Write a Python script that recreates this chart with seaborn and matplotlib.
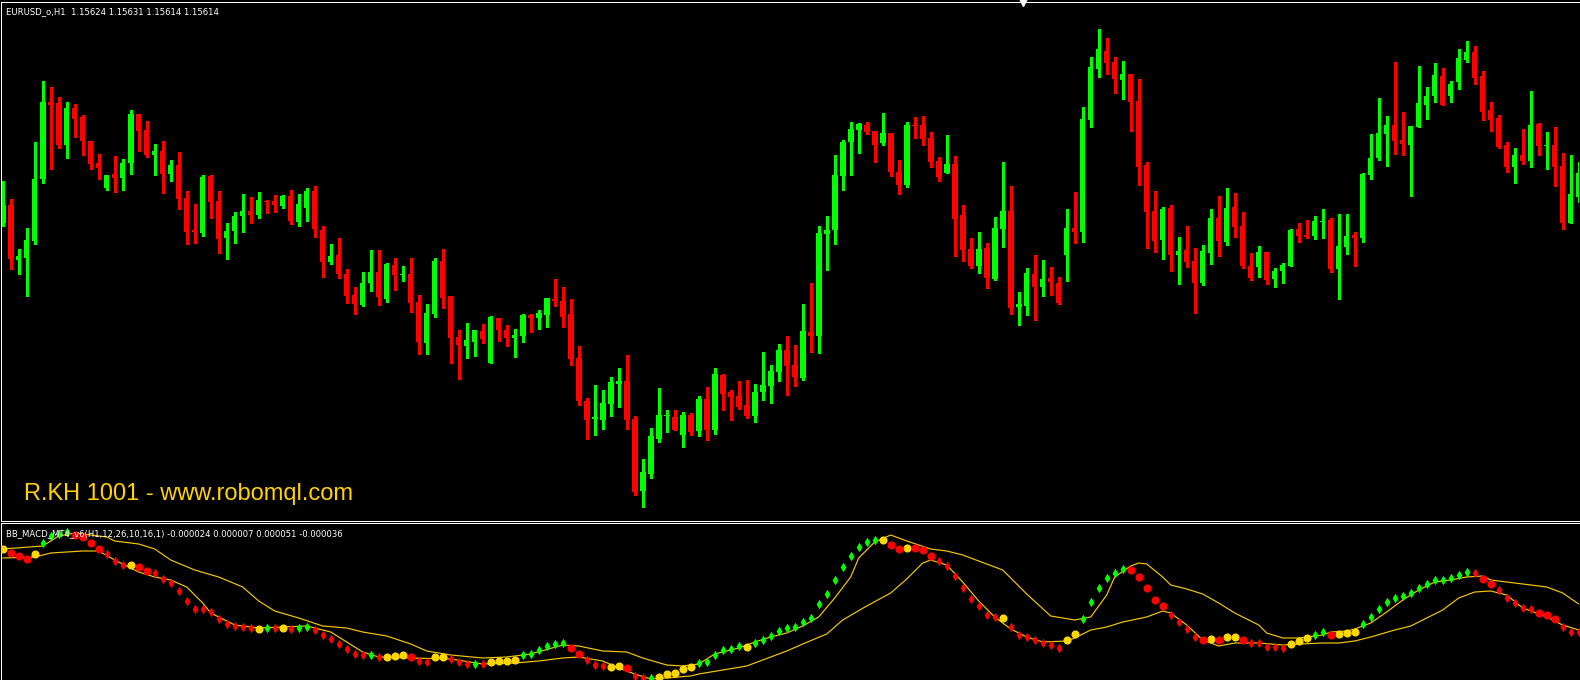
import numpy as np
import pandas as pd
import seaborn as sns
import matplotlib
matplotlib.use("Agg")
import matplotlib.pyplot as plt

# EURUSD H1 candles, prices stored as points above 1.15300
BASE = 1.15300
POINT = 0.00001

open_pts = [297, 315, 260, 262, 279, 341, 418, 417, 375, 412, 403, 379, 357, 332, 346, 342, 357, 406, 390, 365,
            369, 346, 355, 322, 290, 287, 344, 319, 282, 289, 304, 309, 305, 319, 319, 314, 324, 298, 312, 329,
            290, 258, 265, 246, 225, 215, 237, 248, 221, 255, 245, 246, 218, 177, 206, 259, 224, 183, 174, 178,
            189, 157, 202, 190, 182, 184, 205, 202, 205, 221, 219, 206, 162, 119, 101, 100, 116, 136, 139, 101,
            29, 46, 81, 104, 103, 85, 105, 89, 121, 90, 145, 128, 124, 115, 104, 128, 134, 148, 170, 155,
            142, 188, 184, 286, 290, 344, 378, 390, 395, 389, 377, 387, 348, 335, 395, 395, 382, 359, 347, 356,
            305, 271, 254, 272, 241, 291, 309, 213, 214, 246, 233, 242, 237, 265, 292, 288, 400, 451, 469, 458,
            440, 446, 419, 355, 309, 280, 312, 265, 270, 259, 237, 267, 302, 278, 313, 294, 254, 253, 268, 241,
            249, 254, 291, 285, 284, 298, 300, 251, 273, 285, 282, 345, 362, 386, 395, 380, 375, 393, 415, 424,
            444, 424, 438, 460, 468, 444, 410, 402, 375, 353, 365, 359, 396, 374, 375, 354, 297, 323]
high_pts = [339, 321, 271, 292, 378, 439, 433, 423, 418, 416, 405, 379, 366, 345, 364, 361, 410, 406, 399, 376,
            379, 360, 368, 329, 316, 345, 345, 329, 297, 308, 326, 323, 328, 320, 325, 325, 330, 326, 332, 334,
            294, 276, 282, 251, 233, 248, 270, 270, 257, 262, 254, 262, 225, 216, 262, 271, 224, 190, 197, 190,
            196, 204, 202, 195, 191, 206, 206, 210, 222, 241, 233, 221, 174, 122, 135, 130, 143, 152, 165, 104,
            61, 92, 132, 110, 110, 108, 107, 124, 133, 152, 146, 130, 139, 140, 136, 168, 155, 176, 184, 175,
            216, 237, 294, 304, 365, 380, 398, 397, 398, 389, 407, 387, 360, 398, 403, 404, 388, 363, 385, 364,
            315, 282, 288, 277, 303, 358, 334, 228, 252, 265, 260, 253, 243, 311, 328, 413, 463, 491, 482, 463,
            459, 446, 441, 358, 329, 313, 315, 283, 294, 272, 275, 311, 324, 332, 327, 308, 267, 274, 268, 252,
            257, 291, 297, 300, 304, 311, 302, 306, 306, 288, 347, 386, 422, 404, 458, 408, 394, 454, 433, 457,
            452, 439, 471, 479, 474, 449, 418, 405, 378, 372, 391, 429, 397, 388, 393, 367, 365, 358]
low_pts = [294, 251, 246, 224, 276, 337, 351, 372, 362, 383, 365, 351, 341, 330, 328, 330, 346, 369, 363, 345,
           327, 339, 311, 276, 277, 284, 302, 267, 261, 277, 288, 297, 302, 307, 308, 312, 296, 294, 299, 283,
           243, 256, 242, 217, 206, 214, 229, 215, 218, 230, 239, 208, 166, 166, 203, 212, 157, 141, 162, 164,
           177, 157, 179, 174, 163, 178, 188, 191, 193, 214, 193, 155, 115, 81, 85, 91, 104, 113, 91, 25,
           13, 42, 78, 88, 90, 73, 85, 84, 80, 86, 110, 100, 111, 102, 98, 120, 117, 139, 125, 134,
           140, 168, 167, 250, 276, 330, 345, 367, 386, 358, 375, 344, 326, 333, 382, 375, 353, 339, 347, 264,
           259, 252, 247, 232, 240, 273, 206, 195, 205, 200, 224, 225, 216, 239, 277, 278, 393, 443, 446, 427,
           421, 389, 335, 272, 268, 261, 249, 236, 253, 207, 235, 256, 264, 275, 283, 252, 240, 243, 236, 233,
           237, 254, 278, 282, 281, 282, 248, 221, 266, 254, 278, 341, 360, 354, 366, 365, 324, 393, 401, 418,
           415, 418, 431, 458, 436, 400, 389, 372, 348, 337, 356, 353, 365, 351, 334, 291, 297, 318]
close_pts = [315, 261, 264, 280, 341, 418, 415, 375, 412, 401, 379, 356, 352, 345, 342, 357, 406, 389, 365, 369,
             346, 355, 321, 288, 288, 343, 318, 281, 289, 304, 309, 305, 320, 318, 315, 324, 299, 316, 329, 291,
             258, 264, 246, 224, 216, 237, 248, 223, 256, 245, 246, 217, 178, 207, 259, 222, 182, 175, 180, 190,
             181, 203, 190, 182, 185, 205, 202, 207, 222, 219, 203, 161, 119, 100, 103, 117, 138, 139, 100, 28,
             48, 84, 105, 105, 90, 105, 88, 121, 90, 146, 126, 123, 113, 104, 128, 135, 149, 170, 154, 143,
             189, 184, 287, 290, 345, 378, 391, 396, 388, 375, 387, 348, 335, 395, 394, 381, 358, 343, 356, 301,
             270, 254, 271, 242, 292, 309, 212, 216, 247, 233, 241, 238, 217, 292, 288, 401, 453, 471, 457, 441,
             446, 418, 353, 308, 279, 311, 265, 269, 258, 237, 269, 302, 279, 312, 293, 254, 242, 268, 240, 249,
             255, 290, 284, 283, 299, 299, 251, 274, 284, 282, 346, 362, 387, 395, 379, 376, 394, 417, 424, 445,
             415, 436, 462, 468, 442, 408, 400, 373, 353, 365, 359, 395, 374, 375, 353, 297, 326, 347]

# BB_MACD sub window, one dot per bar (values in panel units)
macd_vals = [131, 127, 124, 121, 126, 137, 144, 146, 148, 145, 143, 137, 131, 126, 119, 115, 115, 113, 109, 107,
             101, 97, 89, 79, 71, 71, 68, 61, 56, 54, 53, 52, 51, 52, 52, 52, 51, 52, 53, 50,
             45, 41, 36, 31, 26, 25, 25, 23, 23, 24, 25, 23, 19, 18, 23, 23, 21, 18, 16, 16,
             16, 18, 19, 19, 20, 25, 26, 30, 34, 36, 37, 32, 26, 20, 15, 14, 13, 14, 12, 4,
             2, 2, 3, 6, 7, 11, 13, 17, 18, 25, 30, 31, 34, 33, 37, 40, 44, 49, 52, 53,
             58, 62, 76, 86, 100, 113, 124, 133, 138, 140, 140, 135, 131, 132, 132, 130, 124, 119, 114, 104,
             92, 81, 74, 65, 63, 62, 53, 45, 43, 40, 37, 35, 32, 40, 46, 61, 78, 92, 102, 107,
             111, 110, 103, 92, 80, 74, 65, 58, 51, 43, 40, 41, 40, 43, 43, 40, 37, 37, 33, 33,
             32, 36, 39, 42, 45, 48, 45, 46, 47, 48, 56, 63, 71, 78, 82, 84, 87, 92, 96, 100,
             100, 102, 105, 108, 107, 101, 96, 90, 82, 77, 72, 71, 67, 65, 61, 53, 48, 48]
# g/r = small green/red diamond, Y/R = big yellow/red circle
dot_kind = ("YRRRYggggR" "RRRrrrYRRr" "rrrrrrrrrr" "rrYgrYrggr" "rrrrrrgrYY"
            "YRrrYYrrrg" "rYYYYggggg" "gRRrrrYYRr" "rgYYYYYggg" "gggYgggggg"
            "gggggggggg" "YRRYRRRrrr" "rrrrrYrrrr" "rrrYYggggg" "gRRRRRrrrr"
            "RYRYYRrrrr" "rYYYggRYYY" "gggggggggg" "ggggrRRrrr" "rrRRRrrr")

upper_idx = [0, 5, 7, 9, 11, 13, 14, 17, 19, 21, 24, 27, 30, 32, 34, 37, 40, 43, 45, 48,
             51, 53, 56, 60, 63, 66, 70, 72, 75, 78, 80, 83, 85, 87, 89, 92, 94, 96, 98, 100,
             102, 104, 106, 107, 109, 111, 113, 116, 118, 120, 125, 128, 131, 134, 136, 138, 139, 141, 142, 143,
             145, 146, 148, 150, 152, 154, 157, 158, 160, 162, 165, 166, 168, 169, 171, 173, 175, 177, 179, 181,
             183, 185, 186, 188, 190, 193, 195, 197]
upper_vals = [131, 134, 144, 147, 145, 143, 139, 136, 131, 120, 110, 103, 93, 79, 69, 62, 54, 52, 48, 44,
              36, 29, 25, 22, 23, 26, 35, 34, 29, 28, 22, 15, 14, 16, 26, 32, 38, 43, 47, 54,
              63, 82, 103, 122, 138, 145, 139, 131, 129, 125, 110, 86, 64, 60, 63, 85, 103, 114, 117, 116,
              103, 95, 91, 86, 77, 67, 55, 47, 42, 42, 45, 48, 49, 51, 57, 68, 80, 90, 98, 100,
              103, 104, 100, 98, 96, 93, 87, 76]
lower_idx = [0, 4, 6, 10, 12, 14, 17, 19, 21, 23, 25, 26, 29, 32, 38, 41, 43, 45, 47, 51,
             56, 60, 64, 67, 70, 72, 75, 77, 79, 81, 83, 86, 87, 90, 93, 95, 98, 100, 103, 105,
             108, 111, 113, 115, 116, 118, 120, 122, 124, 126, 128, 130, 133, 134, 136, 138, 140, 143, 145, 146,
             148, 150, 152, 154, 157, 160, 162, 165, 167, 169, 171, 174, 176, 178, 180, 182, 184, 186, 188, 190,
             193, 195, 197]
lower_vals = [122, 123, 127, 129, 129, 120, 108, 103, 100, 93, 77, 67, 55, 52, 54, 48, 38, 28, 23, 22,
              21, 16, 17, 19, 22, 23, 19, 12, 6, 1, 2, 4, 6, 10, 14, 20, 29, 36, 46, 60,
              74, 87, 101, 117, 120, 115, 98, 79, 63, 51, 43, 38, 39, 42, 50, 53, 58, 63, 69, 67,
              55, 40, 34, 37, 37, 35, 36, 37, 37, 39, 43, 50, 54, 62, 70, 82, 88, 89, 85, 72,
              63, 55, 50]

BULL = "#00FF00"
BEAR = "#FF0000"
GOLD = "#FFD700"
BAND = "#F5C800"

sns.set_style("dark", {"axes.facecolor": "black", "figure.facecolor": "black"})
plt.rcParams["font.family"] = ["DejaVu Sans"]

W, H = 1580, 680
fig = plt.figure(figsize=(15.8, 6.8), dpi=100, facecolor="black")

# main price window: pixel rows 1.5 .. 520.5
ax = fig.add_axes([1 / W, 159.5 / H, 1578 / W, 519 / H])
ax2 = fig.add_axes([1 / W, 0, 1578 / W, 156.7 / H])

n = len(open_pts)
bars = np.arange(n)
o = BASE + np.array(open_pts) * POINT
h = BASE + np.array(high_pts) * POINT
l = BASE + np.array(low_pts) * POINT
c = BASE + np.array(close_pts) * POINT
colors = np.where(c > o, BULL, BEAR)
body_lo = np.minimum(o, c)
body_h = np.maximum(np.abs(c - o), POINT)

ax.vlines(bars, l, h, colors=colors, lw=0.75, antialiased=False)
ax.bar(bars, body_h, bottom=body_lo, width=0.7, color=colors, lw=0, antialiased=False)

x_lo, x_hi = -0.2125, -0.2125 + 1578 / 8
ax.set_xlim(x_lo, x_hi)
ax.set_ylim(BASE - 0.5 * POINT, BASE + 518.5 * POINT)

# indicator window
df = pd.DataFrame({"bar": bars, "macd": macd_vals, "kind": list(dot_kind)})
sns.lineplot(x=upper_idx, y=upper_vals, color=BAND, lw=0.85, ax=ax2)
sns.lineplot(x=lower_idx, y=lower_vals, color=BAND, lw=0.85, ax=ax2)
styles = {"g": ("d", 24, BULL), "r": ("d", 24, BEAR), "Y": ("o", 34, GOLD), "R": ("o", 34, BEAR)}
for kind, (mk, size, col) in styles.items():
    sub = df[df["kind"] == kind]
    sns.scatterplot(data=sub, x="bar", y="macd", marker=mk, s=size, color=col,
                    linewidth=0, legend=False, ax=ax2, zorder=3)
ax2.set_xlim(x_lo, x_hi)
ax2.set_ylim(0, 156.7)

for a in (ax, ax2):
    a.set_facecolor("black")
    a.set_xticks([])
    a.set_yticks([])
    a.set_xlabel("")
    a.set_ylabel("")
    a.grid(False)
    for side in a.spines:
        a.spines[side].set_visible(False)
    for side in ("left", "top"):
        a.spines[side].set_visible(True)
        a.spines[side].set_color("white")
        a.spines[side].set_linewidth(0.75)
ax.spines["bottom"].set_visible(True)
ax.spines["bottom"].set_color("white")
ax.spines["bottom"].set_linewidth(0.75)

# chart shift marker
ax.plot([(1023 - 1) / 1578], [1.0], marker="v", ms=6, color="white",
        transform=ax.transAxes, clip_on=False)

fig.text(6 / W, 1 - 14 / H, "EURUSD_o,H1  1.15624 1.15631 1.15614 1.15614",
         color="white", fontsize=6.1, va="baseline", ha="left")
fig.text(6 / W, 1 - 536 / H, "BB_MACD_MT4_v6(H1,12,26,10,16,1) -0.000024 0.000007 0.000051 -0.000036",
         color="white", fontsize=6.1, va="baseline", ha="left")
fig.text(24 / W, 1 - 500 / H, "R.KH 1001 - www.robomql.com", color="#FFD200",
         fontsize=17, family=["Liberation Sans", "DejaVu Sans"], va="baseline", ha="left")

fig.savefig("out.png", dpi=100, facecolor="black")
